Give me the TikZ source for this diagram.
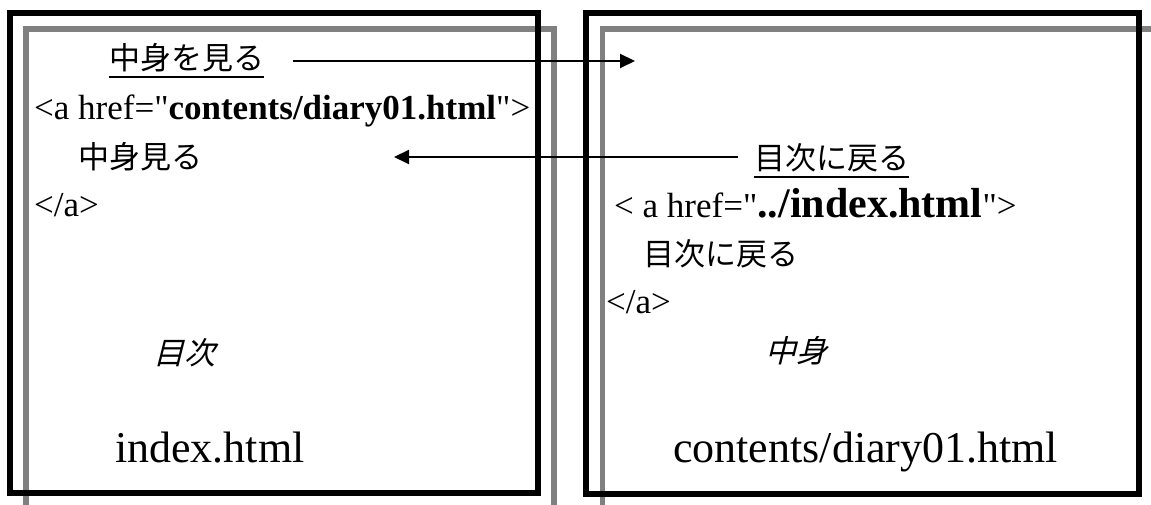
\documentclass[tikz,border=0pt]{standalone}
\usepackage{fontspec}
\usepackage{tikz}
\usetikzlibrary{arrows.meta}
\setmainfont{Liberation Serif}[Ligatures=TeXOff]
\newfontfamily\jp{Noto Sans CJK JP}
\newfontfamily\jpslant[FakeSlant=0.25]{Noto Sans CJK JP}
\definecolor{FrameGray}{RGB}{128,128,128}
\newcommand\linked[1]{\setbox0\hbox{#1}\rlap{\rule[-8pt]{\wd0}{1.8pt}}\box0}
\tikzset{
  frame/.style={draw=black,line width=6pt},
  shade/.style={draw=FrameGray,line width=5.5pt},
  txt/.style={anchor=base west,inner sep=0pt,font=\jp\fontsize{31}{36}\selectfont},
  code/.style={anchor=base west,inner sep=0pt,font=\fontsize{35}{40}\selectfont},
  title/.style={anchor=base west,inner sep=0pt,font=\jpslant\fontsize{31}{36}\selectfont},
  file/.style={anchor=base west,inner sep=0pt,font=\fontsize{44}{48}\selectfont},
  link/.style={-{Triangle[length=15pt,width=14pt]},line width=2pt},
}

\begin{document}
\begin{tikzpicture}[x=1pt,y=1pt]
\clip (0,0) rectangle (1151,504);
\draw[shade] (26,475) rectangle (554,-20);
\draw[shade] (602.5,475) rectangle (1180,-20);
\draw[frame] (10,491) rectangle (538,11);
\draw[frame] (586,491) rectangle (1139,10);

\node[txt] (see) at (109,434) {\linked{中身を見る}};
\node[code] (hrefa) at (34,384) {<a href="\textbf{contents/diary01.html}">};
\node[txt] (openleft) at (78,335) {中身見る};
\node[code] (closeleft) at (34,287) {</a>};
\node[title] (mokuji) at (153,140) {目次};
\node[file] (indexfile) at (115,42) {index.html};

\node[txt] (back) at (754,334) {\linked{目次に戻る}};
\node[code] (hrefb) at (614,286) {< a href="{\fontsize{42}{46}\selectfont\bfseries ../index.html}">};
\node[txt] (openright) at (643,239) {目次に戻る};
\node[code] (closeright) at (606,191) {</a>};
\node[title] (nakami) at (765,142) {中身};
\node[file] (contentsfile) at (673,42) {contents/diary01.html};

\coordinate (seeend) at (635,443);
\coordinate (backend) at (394,347);
\draw[link] ([shift={(29,9)}]see.base east) -- (seeend);
\draw[link] ([shift={(-16,13)}]back.base west) -- (backend);
\end{tikzpicture}
\end{document}
